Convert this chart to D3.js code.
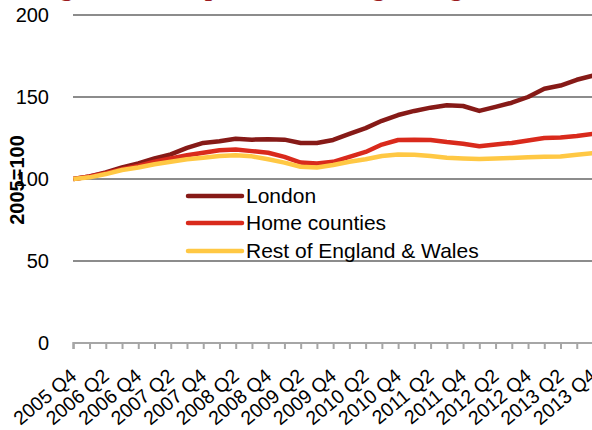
<!DOCTYPE html>
<html>
<head>
<meta charset="utf-8">
<script src="https://cdn.jsdelivr.net/npm/d3@7"></script>
<style>
  html, body { margin: 0; padding: 0; background: #fff; }
  svg { display: block; font-family: "Liberation Sans", Arial, sans-serif; }
</style>
</head>
<body>
<svg id="chart" width="592" height="430"></svg>
<script>
// Quarterly house price index, 2005 Q4 = 100
const quarters = [
  "2005 Q4",
  "2006 Q1", "2006 Q2", "2006 Q3", "2006 Q4",
  "2007 Q1", "2007 Q2", "2007 Q3", "2007 Q4",
  "2008 Q1", "2008 Q2", "2008 Q3", "2008 Q4",
  "2009 Q1", "2009 Q2", "2009 Q3", "2009 Q4",
  "2010 Q1", "2010 Q2", "2010 Q3", "2010 Q4",
  "2011 Q1", "2011 Q2", "2011 Q3", "2011 Q4",
  "2012 Q1", "2012 Q2", "2012 Q3", "2012 Q4",
  "2013 Q1", "2013 Q2", "2013 Q3", "2013 Q4"
];

const london = [
  100, 101.5, 104, 107, 109.5, 112.5, 115, 119, 122, 123, 124.5, 124, 124.3,
  124, 122, 122, 123.8, 127.5, 131, 135.5, 139, 141.5, 143.5, 145, 144.5,
  141.5, 144, 146.5, 150, 155, 157, 160.5, 163
];

const homeCounties = [
  100, 101.5, 103.5, 106, 108, 110.5, 112.5, 114.5, 116, 117.5, 118, 117, 116,
  113.5, 110, 109.5, 110.5, 113.5, 116.5, 121, 123.8, 124, 123.8, 122.5, 121.5,
  120, 121, 122, 123.5, 125, 125.3, 126.2, 127.5
];

const restOfEW = [
  100, 101, 103, 105.5, 107, 109, 110.5, 112, 113, 114, 114.5, 113.8, 112,
  110, 107.5, 107, 108.5, 110.5, 112, 114, 115, 114.8, 114, 113, 112.5,
  112.2, 112.5, 112.8, 113.2, 113.5, 113.7, 114.8, 115.8
];

const seriesNames = ["London", "Home counties", "Rest of England & Wales"];
const seriesColors = ["#861a17", "#d92a1c", "#ffc844"];
const yTicks = [0, 50, 100, 150, 200];
const titleText = "Regional house prices, widening divergence";

const series = [london, homeCounties, restOfEW];

const svg = d3.select("#chart");

const x = d3.scalePoint().domain(quarters).range([73.3, 593]);
const y = d3.scaleLinear().domain([0, 200]).range([343, 15]);

// Heading (runs off the top edge)
svg.append("text")
  .attr("x", 30)
  .attr("y", -4.5)
  .attr("fill", "#9b1b1f")
  .style("font-family", "'Liberation Serif', 'Times New Roman', serif")
  .style("font-weight", "bold")
  .style("font-size", "26px")
  .text(titleText);

// Horizontal gridlines
svg.append("g")
  .selectAll("line")
  .data(yTicks.filter(d => d > 0))
  .join("line")
  .attr("x1", 73)
  .attr("x2", 592)
  .attr("y1", d => y(d))
  .attr("y2", d => y(d))
  .attr("stroke", "#8c8c8c")
  .attr("stroke-width", 2);

// Y axis labels
const yAxis = svg.append("g")
  .attr("transform", "translate(49,0)")
  .call(d3.axisLeft(y).tickValues(yTicks).tickSize(0).tickPadding(0));
yAxis.select(".domain").remove();
yAxis.selectAll("text")
  .attr("fill", "#000")
  .style("font-size", "20px")
  .style("font-family", "'Liberation Sans', Arial, sans-serif");

// Y axis title
svg.append("text")
  .attr("transform", "translate(24,180) rotate(-90)")
  .attr("text-anchor", "middle")
  .style("font-weight", "bold")
  .style("font-size", "20px")
  .attr("fill", "#000")
  .text("2005=100");

// X axis with a tick at every quarter
const xAxis = svg.append("g")
  .attr("transform", `translate(0,${y(0)})`)
  .call(d3.axisBottom(x).tickSize(6).tickFormat(""));
xAxis.select(".domain")
  .attr("d", `M${x.range()[0]},6V0H592`)
  .attr("stroke", "#a6a6a6")
  .attr("stroke-width", 2)
  .attr("fill", "none");
xAxis.selectAll(".tick line")
  .attr("stroke", "#a6a6a6")
  .attr("stroke-width", 2);

// Rotated quarter labels, every second quarter
svg.append("g")
  .selectAll("text")
  .data(quarters.filter((q, i) => i % 2 === 0))
  .join("text")
  .attr("transform", d => `translate(${x(d) + 4.5},${y(0) + 35}) rotate(-40)`)
  .attr("text-anchor", "end")
  .style("font-size", "19.5px")
  .attr("fill", "#000")
  .text(d => d);

// Series lines
const line = d3.line()
  .x((d, i) => x(quarters[i]))
  .y(d => y(d));

svg.append("g")
  .selectAll("path")
  .data(series)
  .join("path")
  .attr("d", d => line(d))
  .attr("fill", "none")
  .attr("stroke", (d, i) => seriesColors[i])
  .attr("stroke-width", 4.5)
  .attr("stroke-linejoin", "round");

// Legend
const legendY = [196, 223, 251];
const legend = svg.append("g")
  .selectAll("g")
  .data(seriesNames)
  .join("g")
  .attr("transform", (d, i) => `translate(188,${legendY[i]})`);
legend.append("line")
  .attr("x1", 0)
  .attr("x2", 54)
  .attr("stroke", (d, i) => seriesColors[i])
  .attr("stroke-width", 4.5)
  .attr("stroke-linecap", "round");
legend.append("text")
  .attr("x", 58)
  .attr("dy", "0.35em")
  .style("font-size", "21px")
  .attr("fill", "#000")
  .text(d => d);
</script>
</body>
</html>
